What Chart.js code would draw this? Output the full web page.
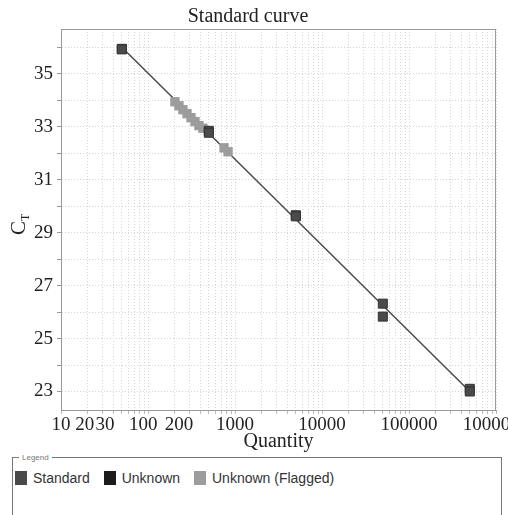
<!DOCTYPE html>
<html>
<head>
<meta charset="utf-8">
<script src="https://cdn.jsdelivr.net/npm/chart.js@4"></script>
<style>
body{margin:0;background:#fff;width:508px;height:515px;overflow:hidden;position:relative;}
#wrap{position:absolute;left:0;top:0;width:508px;height:452px;}
fieldset{position:absolute;left:12px;top:453px;width:484px;height:80px;margin:0;padding:8px 2px;border:1px solid #777;font-family:"Liberation Sans",Arial,sans-serif;font-size:14px;color:#333;}
legend{font-size:8px;color:#777;padding:0 3px;margin-left:4px;}
.item{display:inline-flex;align-items:center;margin-right:10px;}
.sw{display:inline-block;width:12px;height:14px;margin-right:6px;}
</style>
</head>
<body>
<div id="wrap"><canvas id="curve" width="508" height="452"></canvas></div>
<fieldset>
  <legend>Legend</legend>
  <span class="item"><span class="sw" style="background:#4a4a4a"></span>Standard</span>
  <span class="item"><span class="sw" style="background:#1c1c1c"></span>Unknown</span>
  <span class="item"><span class="sw" style="background:#9c9c9c"></span>Unknown (Flagged)</span>
</fieldset>
<script>
// standards (duplicates)
const stdQty=[50,50,500,500,5000,5000,50000,50000,500000,500000];
const stdCt=[35.95,35.93,32.85,32.78,29.66,29.62,26.32,25.83,23.1,23.0];
// flagged unknowns
const flagQty=[204,227,252,281,312,347,385,428,748,832];
const flagCt=[33.95,33.8,33.65,33.5,33.35,33.2,33.05,32.95,32.21,32.06];
const unkQty=[];
const unkCt=[];
const xTickLabels=[10,20,30,100,200,1000,10000,100000,1000000];
const yTickLabels=[23,25,27,29,31,33,35];

function pts(xs,ys){return xs.map((x,i)=>({x:x,y:ys[i]}));}

// least squares on log10(quantity)
const lx=stdQty.map(v=>Math.log10(v));
const mx=lx.reduce((a,b)=>a+b,0)/lx.length;
const my=stdCt.reduce((a,b)=>a+b,0)/stdCt.length;
let sxy=0,sxx=0;
lx.forEach((v,i)=>{sxy+=(v-mx)*(stdCt[i]-my);sxx+=(v-mx)*(v-mx);});
const slope=sxy/sxx, icpt=my-slope*mx;
const fitQty=[Math.min(...stdQty),Math.max(...stdQty)];
const fitCt=fitQty.map(q=>icpt+slope*Math.log10(q));

const frame={
  id:'frame',
  afterDraw(chart){
    const a=chart.chartArea, ctx=chart.ctx;
    ctx.save();
    ctx.strokeStyle='#9a9a9a';ctx.lineWidth=1;
    ctx.strokeRect(a.left+0.5,a.top+0.5,a.right-a.left-1,a.bottom-a.top);
    // y axis title C with subscript T
    ctx.translate(19,226);
    ctx.rotate(-Math.PI/2);
    ctx.fillStyle='#222';
    ctx.textBaseline='middle';ctx.textAlign='left';
    ctx.font='21px "Liberation Serif", serif';
    ctx.fillText('C',-9,0);
    ctx.font='12px "Liberation Serif", serif';
    ctx.fillText('T',5,7);
    ctx.restore();
  }
};

const serif='"Liberation Serif", "Times New Roman", serif';

new Chart(document.getElementById('curve'),{
  type:'scatter',
  data:{
    datasets:[
      {label:'Unknown',data:pts(unkQty,unkCt),pointStyle:'rect',pointRadius:6.4,backgroundColor:'#1c1c1c',borderColor:'#111',borderWidth:1,order:1},
      {label:'Standard',data:pts(stdQty,stdCt),pointStyle:'rect',pointRadius:6.4,backgroundColor:'#4a4a4a',borderColor:'#333',borderWidth:1,order:2},
      {label:'Unknown (Flagged)',data:pts(flagQty,flagCt),pointStyle:'rect',pointRadius:6.6,backgroundColor:'#9c9c9c',borderColor:'#9c9c9c',borderWidth:0,order:3},
      {label:'fit',type:'line',data:pts(fitQty,fitCt),borderColor:'#4a4a4a',borderWidth:1.5,pointRadius:0,showLine:true,order:10}
    ]
  },
  options:{
    responsive:false,
    animation:false,
    layout:{padding:{left:0,right:12,top:0,bottom:0}},
    plugins:{
      legend:{display:false},
      tooltip:{enabled:false},
      title:{display:true,text:'Standard curve',color:'#222',font:{family:serif,size:20,weight:'normal',lineHeight:1.2},padding:{top:5,bottom:0}}
    },
    scales:{
      x:{
        type:'logarithmic',min:10,max:1000000,
        afterBuildTicks(s){
          const t=[];
          for(let e=1;e<6;e++)for(let m=1;m<10;m++)t.push({value:m*Math.pow(10,e)});
          t.push({value:1000000});
          s.ticks=t;
        },
        afterFit(s){s.height=42;s.paddingLeft=0;s.paddingRight=0;},
        ticks:{autoSkip:false,maxRotation:0,minRotation:0,padding:0,color:'#222',font:{family:serif,size:19},
          callback(v){
            if(!xTickLabels.includes(v))return '';
            // nudge crowded labels apart
            if(v===20)return '20 ';
            if(v===30)return ' 30';
            if(v===100)return '100  ';
            if(v===200)return '  200';
            return String(v);
          }},
        grid:{color:'#d6d6d6',tickLength:4,tickColor:'#bbb'},
        border:{color:'#9a9a9a',dash:[1,2]},
        title:{display:true,text:'Quantity',color:'#222',font:{family:serif,size:20,lineHeight:1},padding:{top:0,bottom:0}}
      },
      y:{
        min:22.3,max:36.7,
        afterBuildTicks(s){
          const t=[];
          for(let v=23;v<=36;v++)t.push({value:v});
          s.ticks=t;
        },
        afterFit(s){s.width=61;s.paddingTop=0;s.paddingBottom=0;},
        ticks:{autoSkip:false,padding:4,color:'#222',font:{family:serif,size:19},
          callback(v){return yTickLabels.includes(v)?String(v):'';}},
        grid:{color:'#d6d6d6',tickLength:4,tickColor:'#999'},
        border:{color:'#9a9a9a',dash:[1,2]}
      }
    }
  },
  plugins:[frame]
});
</script>
</body>
</html>
